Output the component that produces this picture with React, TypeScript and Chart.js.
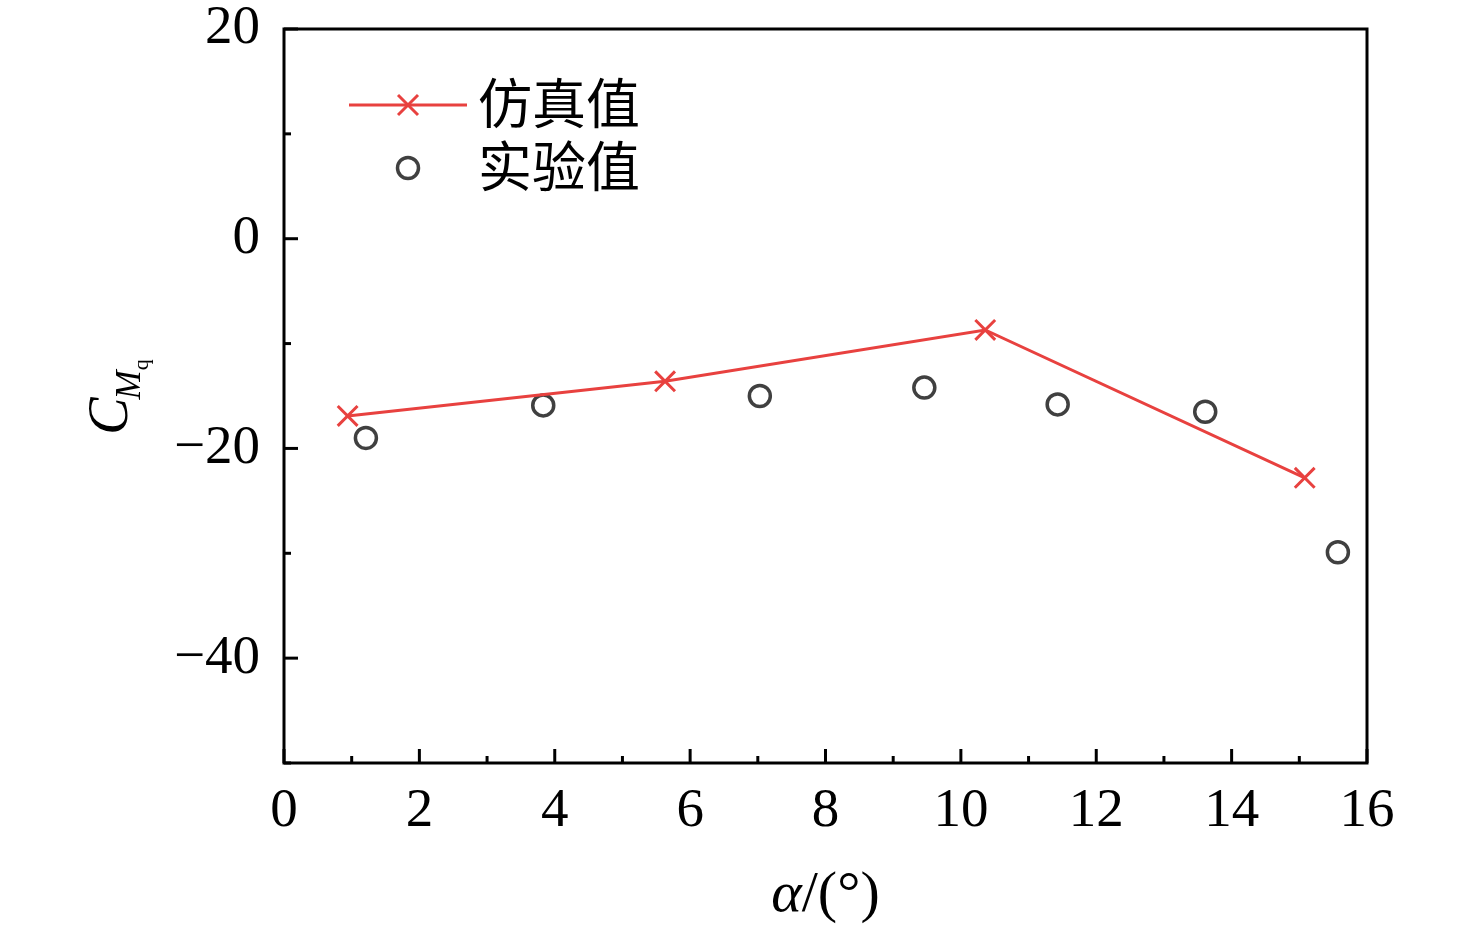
import { useEffect, useRef } from 'react';
import { Chart, registerables } from 'chart.js';

Chart.register(...registerables);

// simulated values (red line with crosses)
const simAlpha = [0.94, 5.63, 10.36, 15.08];
const simCm = [-16.9, -13.6, -8.7, -22.8];

// experimental values (open circles)
const expAlpha = [1.21, 3.83, 7.03, 9.46, 11.43, 13.61, 15.57];
const expCm = [-19.0, -15.9, -15.0, -14.2, -15.8, -16.5, -29.9];

const xMajor = [0, 2, 4, 6, 8, 10, 12, 14, 16];
const xMinor = [1, 3, 5, 7, 9, 11, 13, 15];
const yMajor = [-40, -20, 0, 20];
const yMinor = [-50, -30, -10, 10];

const seriesNames = ['仿真值', '实验值'];

const RED = '#E8413F';
const GREY = '#404040';
const SERIF = '"Liberation Serif", "Times New Roman", serif';
const CJK = '"Noto Sans CJK SC", sans-serif';

const decorPlugin = {
  id: 'decor',
  afterDraw(chart: Chart) {
    const { ctx, chartArea: a } = chart;
    const xs = chart.scales.x;
    const ys = chart.scales.y;
    ctx.save();

    // frame
    ctx.strokeStyle = '#000';
    ctx.lineWidth = 3;
    ctx.strokeRect(a.left, a.top, a.right - a.left, a.bottom - a.top);

    // inward ticks on bottom and left only
    const seg = (x1: number, y1: number, x2: number, y2: number) => {
      ctx.beginPath();
      ctx.moveTo(x1, y1);
      ctx.lineTo(x2, y2);
      ctx.stroke();
    };
    xMajor.forEach(v => { const px = xs.getPixelForValue(v); seg(px, a.bottom, px, a.bottom - 14); });
    xMinor.forEach(v => { const px = xs.getPixelForValue(v); seg(px, a.bottom, px, a.bottom - 7); });
    yMajor.forEach(v => { const py = ys.getPixelForValue(v); seg(a.left, py, a.left + 14, py); });
    yMinor.forEach(v => { const py = ys.getPixelForValue(v); seg(a.left, py, a.left + 7, py); });

    // x title: α/(°)
    ctx.fillStyle = '#000';
    ctx.textBaseline = 'alphabetic';
    ctx.textAlign = 'left';
    ctx.font = `italic 58px ${SERIF}`;
    const wA = ctx.measureText('α').width;
    ctx.font = `58px ${SERIF}`;
    const wRest = ctx.measureText('/(°)').width;
    const cx = (a.left + a.right) / 2;
    const tx = cx - (wA + wRest) / 2;
    ctx.font = `italic 58px ${SERIF}`;
    ctx.fillText('α', tx, 911);
    ctx.font = `58px ${SERIF}`;
    ctx.fillText('/(°)', tx + wA, 911);

    // y title: C_{M_q}, rotated
    ctx.save();
    ctx.translate(127, (a.top + a.bottom) / 2);
    ctx.rotate(-Math.PI / 2);
    ctx.font = `italic 56px ${SERIF}`;
    const wC = ctx.measureText('C').width;
    ctx.font = `italic 35px ${SERIF}`;
    const wM = ctx.measureText('M').width;
    ctx.font = `22px ${SERIF}`;
    const wq = ctx.measureText('q').width;
    let ty = -(wC + wM + wq) / 2;
    ctx.font = `italic 56px ${SERIF}`;
    ctx.fillText('C', ty, 0);
    ty += wC - 2;
    ctx.font = `italic 35px ${SERIF}`;
    ctx.fillText('M', ty, 13);
    ty += wM;
    ctx.font = `22px ${SERIF}`;
    ctx.fillText('q', ty, 21);
    ctx.restore();

    // legend
    const mx = 408;
    ctx.strokeStyle = RED;
    ctx.lineWidth = 3;
    seg(349, 105, 467, 105);
    seg(mx - 10, 95, mx + 10, 115);
    seg(mx - 10, 115, mx + 10, 95);
    ctx.strokeStyle = GREY;
    ctx.lineWidth = 3.5;
    ctx.beginPath();
    ctx.arc(mx, 168, 10.5, 0, Math.PI * 2);
    ctx.stroke();
    ctx.fillStyle = '#000';
    ctx.font = `54px ${CJK}`;
    ctx.textBaseline = 'middle';
    ctx.fillText(seriesNames[0], 478, 103);
    ctx.fillText(seriesNames[1], 478, 166);

    ctx.restore();
  },
};

export default function App() {
  const canvasRef = useRef<HTMLCanvasElement>(null);
  const chartRef = useRef<Chart | null>(null);

  useEffect(() => {
    if (!canvasRef.current) return;
    if (chartRef.current) chartRef.current.destroy();

    const tickFont = { family: SERIF, size: 55, lineHeight: 1 };
    const fmt = (v: number | string) => String(v).replace('-', '\u2212');

    chartRef.current = new Chart(canvasRef.current, {
      type: 'scatter',
      data: {
        datasets: [
          {
            label: seriesNames[0],
            data: simAlpha.map((x, i) => ({ x, y: simCm[i] })),
            showLine: true,
            borderColor: RED,
            borderWidth: 3,
            pointStyle: 'crossRot',
            pointRadius: 14,
            pointBorderWidth: 3,
            pointBorderColor: RED,
            backgroundColor: RED,
          },
          {
            label: seriesNames[1],
            data: expAlpha.map((x, i) => ({ x, y: expCm[i] })),
            showLine: false,
            pointStyle: 'circle',
            pointRadius: 10.5,
            pointBorderWidth: 3.5,
            pointBorderColor: GREY,
            pointBackgroundColor: 'rgba(0,0,0,0)',
          },
        ],
      },
      options: {
        animation: false,
        responsive: true,
        maintainAspectRatio: false,
        layout: { padding: { left: 0, right: 109, top: 29, bottom: 0 } },
        plugins: { legend: { display: false }, tooltip: { enabled: false } },
        scales: {
          x: {
            type: 'linear',
            min: 0,
            max: 16,
            border: { display: false },
            grid: { display: false, drawTicks: false },
            ticks: { font: tickFont, color: '#000', padding: 21, callback: fmt },
            afterBuildTicks: (s: any) => { s.ticks = xMajor.map(value => ({ value })); },
            afterFit: (s: any) => { s.height = 165; s.paddingLeft = 0; s.paddingRight = 0; },
          },
          y: {
            type: 'linear',
            min: -50,
            max: 20,
            border: { display: false },
            grid: { display: false, drawTicks: false },
            ticks: { font: tickFont, color: '#000', padding: 24, callback: fmt },
            afterBuildTicks: (s: any) => { s.ticks = yMajor.map(value => ({ value })); },
            afterFit: (s: any) => { s.width = 284; s.paddingTop = 0; s.paddingBottom = 0; },
          },
        },
      },
      plugins: [decorPlugin],
    });

    return () => {
      if (chartRef.current) {
        chartRef.current.destroy();
        chartRef.current = null;
      }
    };
  }, []);

  return (
    <div style={{ position: 'fixed', left: 0, top: 0, width: 1476, height: 928, background: '#fff' }}>
      <canvas ref={canvasRef}></canvas>
    </div>
  );
}
